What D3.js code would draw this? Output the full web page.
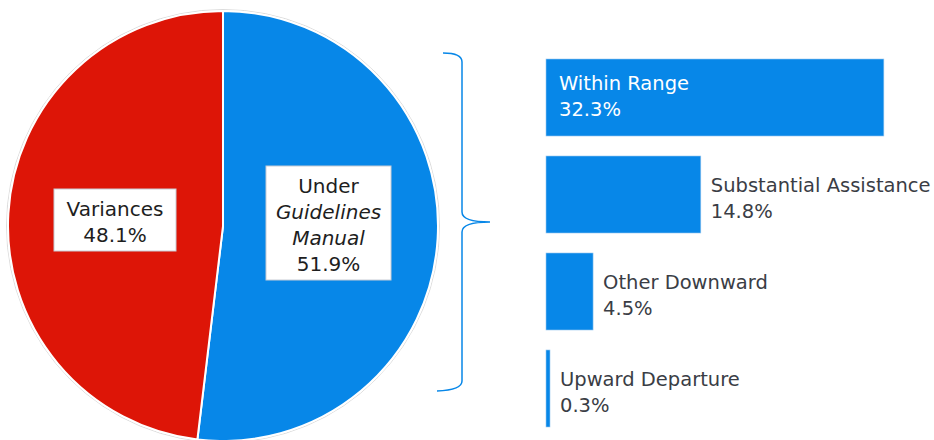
<!DOCTYPE html>
<html>
<head>
<meta charset="utf-8">
<script src="https://cdn.jsdelivr.net/npm/d3@7"></script>
<style>
  body { margin: 0; background: #fff; }
  svg { display: block; }
  text { font-family: "DejaVu Sans", sans-serif; }
</style>
</head>
<body>
<script>
// pie data
const pieLabels = ["Under|Guidelines|Manual", "Variances"];
const pieValues = [51.9, 48.1];
const pieColors = ["#0787e8", "#dd1507"];

// bar data (breakdown of Under Guidelines Manual)
const barLabels = ["Within Range", "Substantial Assistance", "Other Downward", "Upward Departure"];
const barValues = [32.3, 14.8, 4.5, 0.3];

const W = 934, H = 440;
const svg = d3.select("body").append("svg").attr("width", W).attr("height", H);

////////// pie
const cx = 223, cy = 226, r = 215;
const pieG = svg.append("g").attr("transform", `translate(${cx},${cy})`);

pieG.append("circle").attr("r", r + 1.5)
  .attr("fill", "none").attr("stroke", "#dcdcdc").attr("stroke-width", 1);

const pie = d3.pie().sort(null).value(d => d)(pieValues);
const arc = d3.arc().innerRadius(0).outerRadius(r);

pieG.selectAll("path.slice")
  .data(pie)
  .enter()
  .append("path")
  .attr("class", "slice")
  .attr("d", arc)
  .attr("fill", (d, i) => pieColors[i])
  .attr("stroke", "#fff")
  .attr("stroke-width", 2);

// label boxes
function labelBox(x, y, w, h, lines) {
  svg.append("rect").attr("x", x).attr("y", y).attr("width", w).attr("height", h)
    .attr("fill", "#fff").attr("stroke", "#c8ccd4").attr("stroke-width", 1);
  lines.forEach((l, i) => {
    svg.append("text")
      .attr("x", x + w / 2)
      .attr("y", y + 27 + i * 26)
      .attr("text-anchor", "middle")
      .attr("font-size", 20)
      .attr("font-style", l.italic ? "italic" : "normal")
      .attr("fill", "#1e1e1e")
      .text(l.t);
  });
}
const under = pieLabels[0].split("|");
labelBox(266, 166, 125, 114, [
  { t: under[0] }, { t: under[1], italic: true }, { t: under[2], italic: true },
  { t: pieValues[0].toFixed(1) + "%" }
]);
labelBox(54, 189, 122, 62, [
  { t: pieLabels[1] }, { t: pieValues[1].toFixed(1) + "%" }
]);

////////// brace
const br = d3.path();
br.moveTo(443, 53);
br.quadraticCurveTo(462, 53, 462, 62);
br.lineTo(462, 212);
br.quadraticCurveTo(462, 222, 490, 222);
br.quadraticCurveTo(462, 222, 462, 232);
br.lineTo(462, 381);
br.quadraticCurveTo(462, 390, 437, 391);
svg.append("path").attr("d", br.toString())
  .attr("fill", "none").attr("stroke", "#0787e8").attr("stroke-width", 1.5);

////////// bars
const x = d3.scaleLinear().domain([0, 100]).range([546, 546 + 1046]);
const y = d3.scaleBand().domain(barLabels).range([59, 427]).paddingInner(0.206);

const bars = svg.selectAll("g.bar")
  .data(barLabels.map((l, i) => ({ label: l, value: barValues[i] })))
  .enter()
  .append("g").attr("class", "bar");

bars.append("rect")
  .attr("x", x(0))
  .attr("y", d => y(d.label))
  .attr("width", d => Math.max(4, x(d.value) - x(0)))
  .attr("height", y.bandwidth())
  .attr("fill", "#0787e8")
  .attr("stroke", "#9cc8ef")
  .attr("stroke-width", 0.6);

bars.each(function (d, i) {
  const inside = i === 0;
  const tx = inside ? x(0) + 13 : x(0) + Math.max(4, x(d.value) - x(0)) + 10;
  const g = d3.select(this);
  const t = g.append("text")
    .attr("x", tx)
    .attr("y", y(d.label) + (inside ? 31 : 36))
    .attr("font-size", 19.5)
    .attr("fill", inside ? "#fff" : "#3a3d45");
  t.append("tspan").attr("x", tx).text(d.label);
  t.append("tspan").attr("x", tx).attr("dy", 26).text(d.value.toFixed(1) + "%");
});
</script>
</body>
</html>
